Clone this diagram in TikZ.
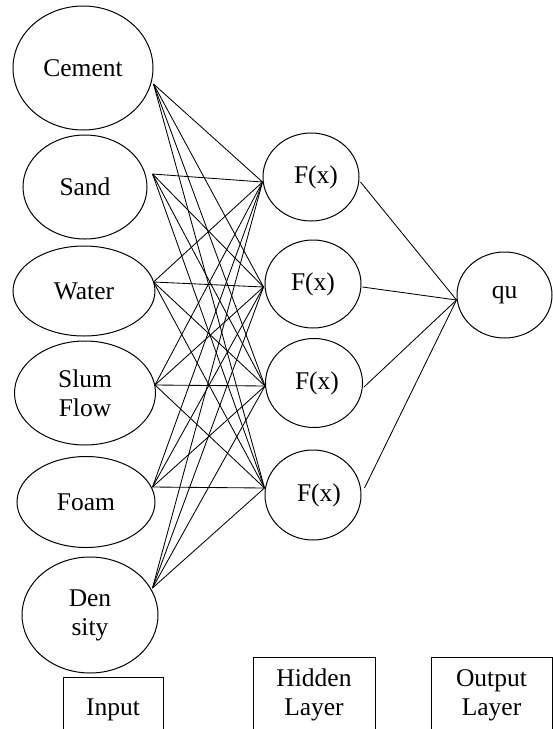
\documentclass[tikz,border=0pt]{standalone}
\usepackage{fontspec}
\setmainfont{Liberation Serif}
\usetikzlibrary{shapes.geometric}
\begin{document}
\begin{tikzpicture}[x=1pt,y=-1pt, line width=1pt,
  neuron/.style={draw, ellipse, inner sep=0pt, align=center, font=\fontsize{25.5}{29}\selectfont},
  labelbox/.style={draw, rectangle, inner sep=0pt, align=center, font=\fontsize{25.5}{29}\selectfont},
  link/.style={line width=0.85pt}]
\clip (0,0) rectangle (553,729);
% input layer
\node[neuron, minimum width=140pt, minimum height=124pt] (cement) at (83,68) {Cement};
\node[neuron, minimum width=124pt, minimum height=104pt] (sand) at (85,187) {Sand};
\node[neuron, minimum width=142pt, minimum height=90pt] (water) at (84,291) {Water};
\node[neuron, minimum width=141pt, minimum height=104pt] (slum) at (85,393) {Slum\\Flow};
\node[neuron, minimum width=138pt, minimum height=91pt] (foam) at (86,502) {Foam};
\node[neuron, minimum width=136pt, minimum height=116pt] (dens) at (90,615) {Den\\sity};
% hidden layer
\node[neuron, minimum width=96pt, minimum height=88pt] (h1) at (311,177) {\hspace{10pt}F(x)};
\node[neuron, minimum width=96pt, minimum height=88pt] (h2) at (313,284) {F(x)};
\node[neuron, minimum width=97pt, minimum height=89pt] (h3) at (314,383) {\hspace{6pt}F(x)};
\node[neuron, minimum width=96pt, minimum height=90pt] (h4) at (313,495) {\hspace{12pt}F(x)};
% output
\node[neuron, minimum width=95pt, minimum height=86pt] (qu) at (504.5,295) {qu};
% connector end points
\path (cement.east) ++(0,16) coordinate (cement-o);
\path (sand.east) ++(5,-13) coordinate (sand-o);
\path (water.east) ++(-2,-9) coordinate (water-o);
\path (slum.east) ++(-1,-8) coordinate (slum-o);
\path (foam.east) ++(-3,-15) coordinate (foam-o);
\path (dens.east) ++(-6,-27) coordinate (dens-o);
\path (h1.west) ++(0,5) coordinate (h1-i);
\path (h2.west) ++(-1,3) coordinate (h2-i);
\path (h3.west) ++(0,3) coordinate (h3-i);
\path (h4.west) ++(0,-7) coordinate (h4-i);
\path (h1.east) ++(1,5) coordinate (h1-o);
\path (h2.east) ++(1,3) coordinate (h2-o);
\path (h3.east) ++(1,4) coordinate (h3-o);
\path (h4.east) ++(3,-7) coordinate (h4-o);
\path (qu.west) ++(0,5) coordinate (qu-i);
% connectors
\foreach \a in {cement,sand,water,slum,foam,dens}
  \foreach \b in {h1,h2,h3,h4}
    \draw[link] (\a-o) -- (\b-i);
\foreach \b in {h1,h2,h3,h4}
  \draw[link] (\b-o) -- (qu-i);
% layer labels
\node[labelbox, minimum width=100pt, minimum height=56pt, text height=20pt, text depth=0pt] (input) at (113,705) {Input};
\node[labelbox, minimum width=122pt, minimum height=76pt] (hidden) at (314,695) {Hidden\\Layer};
\node[labelbox, minimum width=121pt, minimum height=76pt] (output) at (491.5,695) {Output\\Layer};
\end{tikzpicture}
\end{document}
